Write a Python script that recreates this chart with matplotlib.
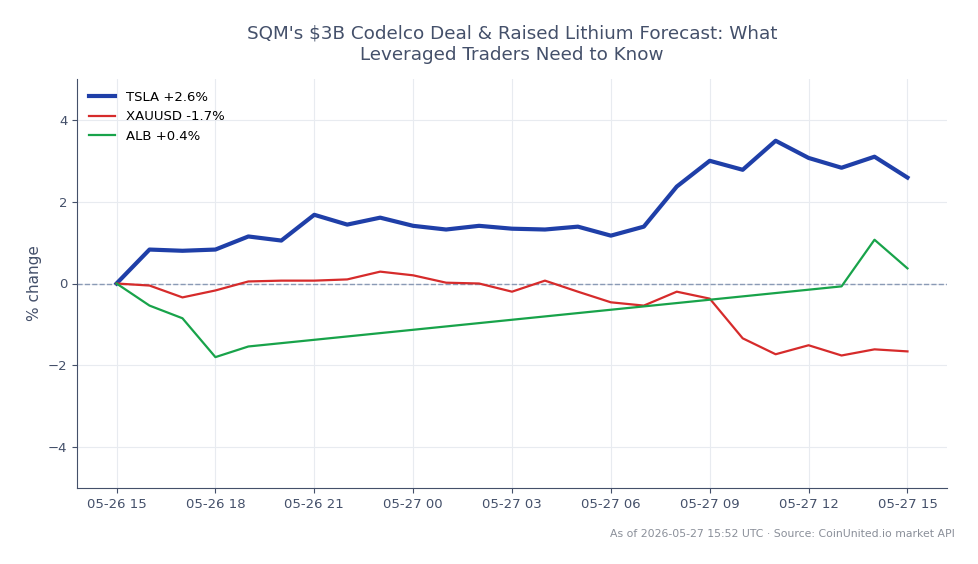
import numpy as np
import pandas as pd
import matplotlib
matplotlib.use("Agg")
import matplotlib.pyplot as plt
import matplotlib.dates as mdates

# hourly timestamps, 05-26 15:00 -> 05-27 15:00
times = pd.date_range("2026-05-26 15:00", "2026-05-27 15:00", freq="h")

tsla = [0, 0.83, 0.80, 0.83, 1.15, 1.05, 1.68, 1.44, 1.61, 1.41, 1.32, 1.41, 1.34,
        1.32, 1.39, 1.17, 1.39, 2.37, 3.00, 2.78, 3.49, 3.07, 2.83, 3.10, 2.59]
xau = [0, -0.05, -0.34, -0.17, 0.05, 0.07, 0.07, 0.10, 0.29, 0.20, 0.02, 0.0, -0.20,
       0.07, -0.20, -0.46, -0.54, -0.20, -0.37, -1.34, -1.73, -1.51, -1.76, -1.61, -1.66]
# ALB only has a few prints
alb_times = pd.to_datetime(["2026-05-26 15:00", "2026-05-26 16:00", "2026-05-26 17:00",
                            "2026-05-26 18:00", "2026-05-26 19:00", "2026-05-27 13:00",
                            "2026-05-27 14:00", "2026-05-27 15:00"])
alb = [0, -0.54, -0.85, -1.80, -1.54, -0.07, 1.07, 0.37]

labels = ["TSLA +2.6%", "XAUUSD -1.7%", "ALB +0.4%"]

text_col = "#44506a"

fig = plt.figure(figsize=(9.79, 5.64), dpi=100)
ax = fig.add_axes([77/979, 1-488/564, 870/979, 409/564])

ax.plot(times, tsla, color="#1f3fa8", lw=3, label=labels[0])
ax.plot(times, xau, color="#d62b2b", lw=1.6, label=labels[1])
ax.plot(alb_times, alb, color="#18a34a", lw=1.6, label=labels[2])
ax.axhline(0, color="#8a9ab5", lw=1, ls="--", zorder=1)

ax.set_ylim(-5, 5)
ax.set_yticks([-4, -2, 0, 2, 4])
ax.xaxis.set_major_locator(mdates.HourLocator(byhour=range(0, 24, 3)))
ax.xaxis.set_major_formatter(mdates.DateFormatter("%m-%d %H"))
ax.grid(True, color="#e8ebf0", lw=0.8)
ax.set_axisbelow(True)
for s in ["top", "right"]:
    ax.spines[s].set_visible(False)
for s in ["left", "bottom"]:
    ax.spines[s].set_color(text_col)
ax.tick_params(colors=text_col, labelsize=9.5)
ax.set_ylabel("% change", color=text_col, fontsize=11)

ax.legend(loc="upper left", frameon=False, fontsize=9.5)
ax.set_title("SQM's $3B Codelco Deal & Raised Lithium Forecast: What\nLeveraged Traders Need to Know",
             color=text_col, fontsize=13.2, pad=14)
fig.text(955/979, 1-534/564, "As of 2026-05-27 15:52 UTC · Source: CoinUnited.io market API",
         ha="right", va="center", color="#8a8f99", fontsize=7.8)

fig.savefig("out.png", dpi=100)
